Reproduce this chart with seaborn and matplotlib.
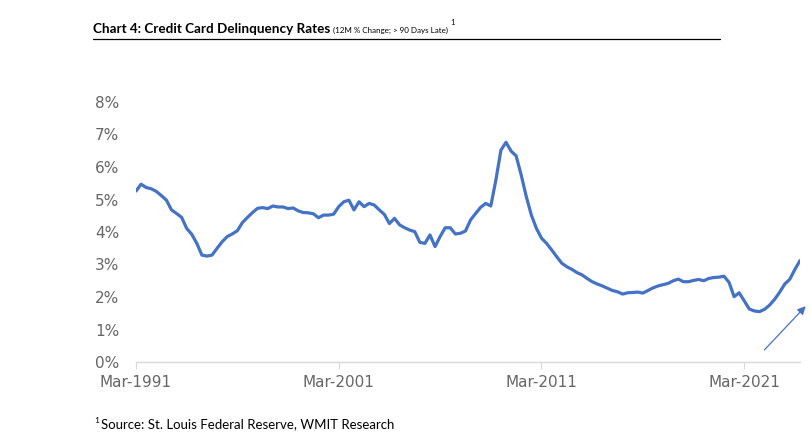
import numpy as np
import pandas as pd
import matplotlib
matplotlib.use("Agg")
import matplotlib.pyplot as plt
import seaborn as sns

# quarterly delinquency rate (%), Mar-1991 onwards
rate = [
    5.26, 5.47, 5.37, 5.33, 5.25, 5.12, 4.98, 4.68, 4.57, 4.45,
    4.11, 3.93, 3.65, 3.29, 3.26, 3.29, 3.50, 3.70, 3.86, 3.94,
    4.04, 4.29, 4.45, 4.60, 4.73, 4.75, 4.72, 4.80, 4.77, 4.77,
    4.72, 4.74, 4.65, 4.60, 4.59, 4.56, 4.44, 4.52, 4.52, 4.55,
    4.78, 4.93, 4.98, 4.68, 4.93, 4.78, 4.88, 4.83, 4.68, 4.54,
    4.26, 4.42, 4.22, 4.13, 4.06, 4.01, 3.68, 3.65, 3.91, 3.55,
    3.86, 4.13, 4.13, 3.94, 3.96, 4.03, 4.37, 4.57, 4.76, 4.88,
    4.80, 5.60, 6.52, 6.76, 6.49, 6.34, 5.75, 5.09, 4.52, 4.11,
    3.81, 3.65, 3.45, 3.24, 3.04, 2.93, 2.85, 2.75, 2.68, 2.57,
    2.47, 2.40, 2.34, 2.27, 2.20, 2.16, 2.09, 2.13, 2.14, 2.15,
    2.12, 2.20, 2.28, 2.34, 2.38, 2.42, 2.50, 2.55, 2.47, 2.47,
    2.51, 2.54, 2.50, 2.57, 2.60, 2.61, 2.64, 2.45, 2.01, 2.13,
    1.88, 1.63, 1.57, 1.55, 1.62, 1.75, 1.93, 2.15, 2.40, 2.55,
    2.85, 3.12,
]
quarters = pd.period_range("1991Q1", periods=len(rate), freq="Q")
tick_labels = ["Mar-1991", "Mar-2001", "Mar-2011", "Mar-2021"]
y_ticks = [0, 1, 2, 3, 4, 5, 6, 7, 8]

df = pd.DataFrame({"idx": np.arange(len(rate)), "rate": rate,
                   "quarter": quarters.astype(str)})

sns.set_style("white")
plt.rcParams["font.family"] = ["DejaVu Sans"]

fig = plt.figure(figsize=(8.11, 4.48), dpi=100)
ax = fig.add_axes([136 / 811, 1 - 362 / 448, (800 - 136) / 811, 260 / 448])

sns.lineplot(data=df, x="idx", y="rate", ax=ax, color="#4472C4", linewidth=2.3)

ax.set_xlim(0, len(rate) - 1)
ax.set_ylim(0, 8)
ax.set_xlabel("")
ax.set_ylabel("")

# ticks every 40 quarters (10 years)
ax.set_xticks([0, 40, 80, 120])
ax.set_xticklabels(tick_labels)
ax.set_yticks(y_ticks)
ax.set_yticklabels([f"{v}%" for v in y_ticks])
ax.tick_params(axis="x", labelsize=11, length=5, width=0.8,
               direction="out", pad=4, bottom=True, color="#D9D9D9")
ax.tick_params(axis="y", labelsize=11, length=0, pad=12)
for lab in ax.get_xticklabels() + ax.get_yticklabels():
    lab.set_color("#666666")

for s in ["top", "right", "left"]:
    ax.spines[s].set_visible(False)
ax.spines["bottom"].set_color("#D9D9D9")
ax.spines["bottom"].set_linewidth(1)

# arrow highlighting the recent rise
ax.annotate("", xy=(132.5, 1.78), xytext=(123.6, 0.31),
            arrowprops=dict(arrowstyle="-|>", color="#4472C4", lw=0.9,
                            mutation_scale=12),
            annotation_clip=False)

# title pieces
title_font = ["Lato", "DejaVu Sans"]
fig.canvas.draw()
r = fig.canvas.get_renderer()
t1 = fig.text(93 / 811, 1 - 33 / 448, "Chart 4: Credit Card Delinquency Rates",
              fontsize=9.7, fontweight="bold", family=title_font, color="black",
              va="baseline")
bb = t1.get_window_extent(r)
t2 = fig.text(bb.x1 / 811 + 3 / 811, 1 - 33 / 448, "(12M % Change; > 90 Days Late)",
              fontsize=5.8, family=title_font, color="black", va="baseline")
bb2 = t2.get_window_extent(r)
fig.text(bb2.x1 / 811 + 2 / 811, 1 - 25 / 448, "1", fontsize=5.5,
         family=title_font, color="black", va="baseline")

fig.add_artist(plt.Line2D([93 / 811, 720 / 811], [1 - 39.5 / 448, 1 - 39.5 / 448],
                          color="black", lw=0.9))

# footnote
fig.text(94 / 811, 1 - 423 / 448, "1", fontsize=6, family=title_font,
         color="black", va="baseline")
fig.text(101 / 811, 1 - 428 / 448, "Source: St. Louis Federal Reserve, WMIT Research",
         fontsize=9.5, family=title_font, color="black", va="baseline")

fig.savefig("out.png", dpi=100)
